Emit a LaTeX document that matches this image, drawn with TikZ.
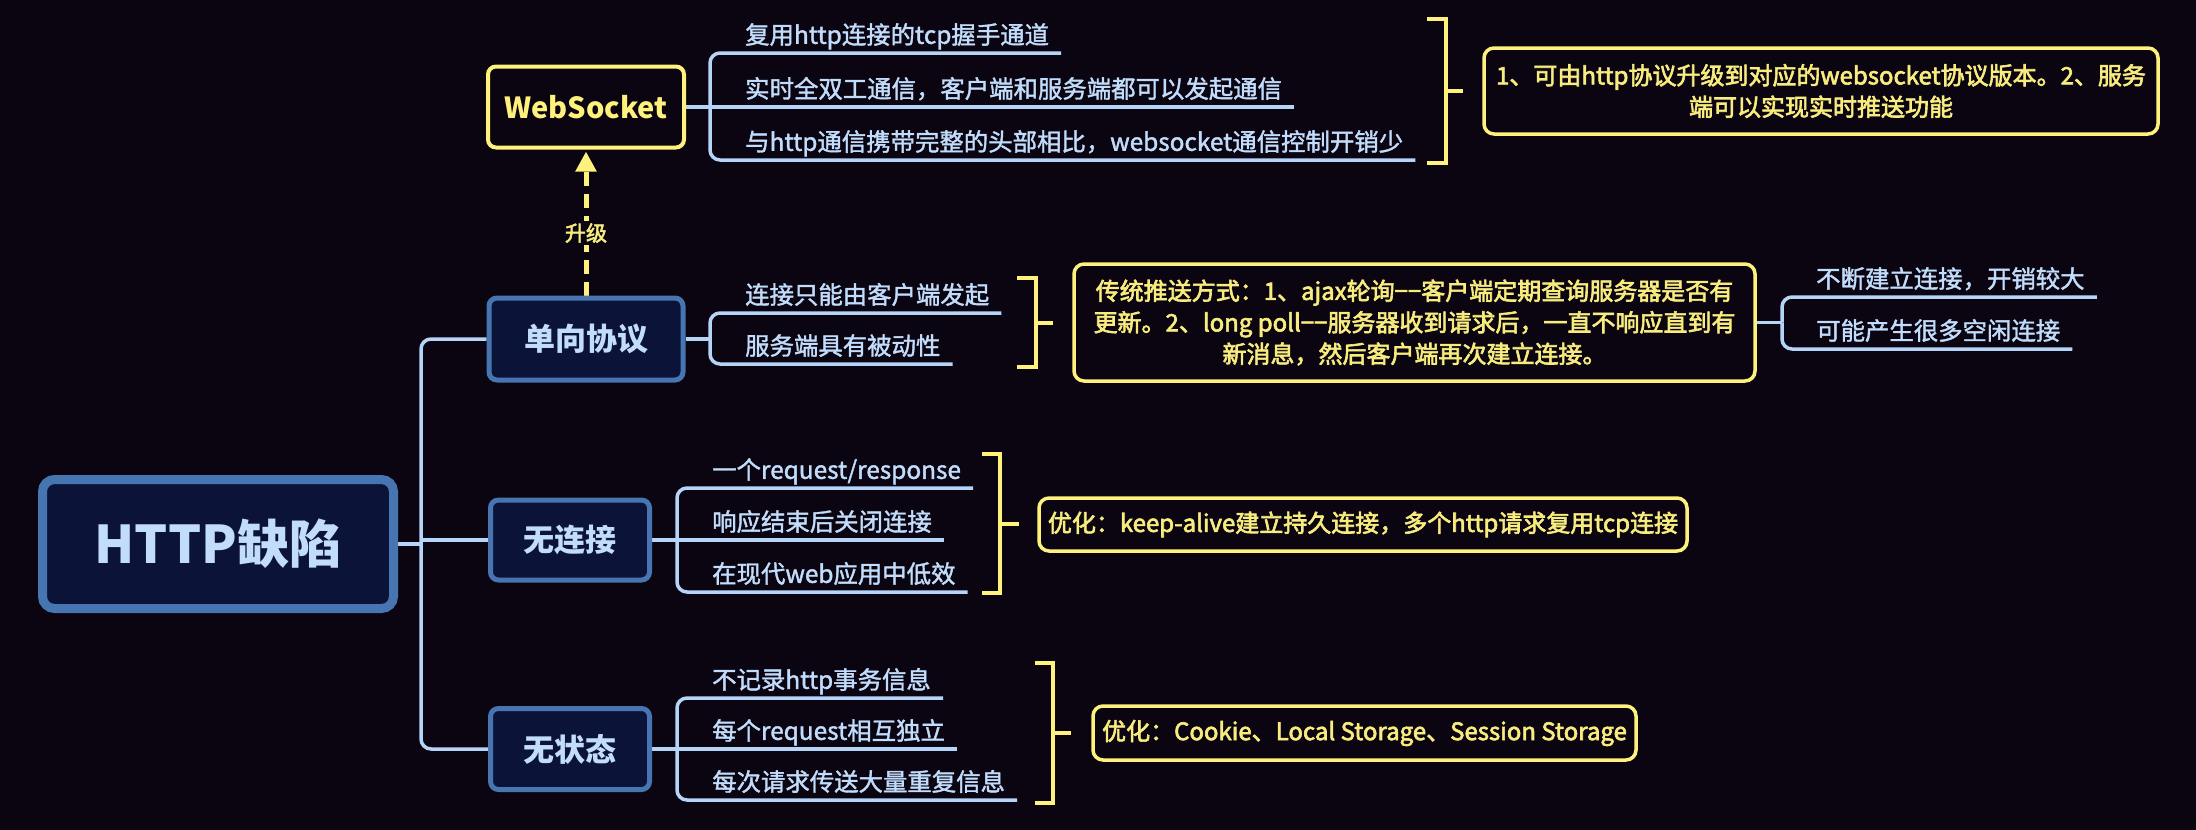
\documentclass[tikz,border=0pt]{standalone}
\usepackage{fontspec}
\setmainfont{Noto Sans CJK SC}
\newfontfamily\medfont{Noto Sans CJK SC}[FakeBold=1.6]
\newfontfamily\notefont{Noto Sans CJK SC}[FakeBold=2.6]
\usetikzlibrary{arrows.meta,backgrounds}
\definecolor{bgc}{HTML}{0A0510}
\definecolor{lb}{HTML}{B6D4F8}
\definecolor{lbt}{HTML}{C2DCFC}
\definecolor{yl}{HTML}{FFF27C}
\definecolor{ylt}{HTML}{F8EC7E}
\definecolor{nb}{HTML}{4775B2}
\definecolor{nf}{HTML}{0B1438}
\tikzset{
 topic/.style={draw=nb, fill=nf, line width=5pt, rounded corners=8pt, text=lbt, font=\bfseries\fontsize{31}{36}\selectfont, inner sep=0pt},
 roottopic/.style={topic, line width=9pt, rounded corners=12pt, font=\bfseries\fontsize{52}{60}\selectfont, minimum width=351pt, minimum height=129pt},
 wsbox/.style={draw=yl, fill=bgc, line width=4pt, rounded corners=8pt, text=yl, font=\bfseries\fontsize{29}{34}\selectfont, minimum width=196pt, minimum height=81pt, inner sep=0pt},
 leaf/.style={anchor=south west, inner xsep=12pt, inner ysep=3pt, text depth=6pt, text height=20pt, text=lbt, font=\medfont\fontsize{24.4}{29}\selectfont},
 link/.style={draw=lb, line width=3.5pt, rounded corners=10pt},
 note/.style={draw=yl, line width=3.5pt, rounded corners=10pt, text=ylt, align=center, inner sep=0pt, font=\notefont\fontsize{24}{31.5}\selectfont},
 bracketline/.style={draw=yl, line width=4pt},
 upgrade/.style={draw=yl, line width=5pt, dash pattern=on 14pt off 8pt, -{Triangle[width=20pt,length=20pt]}, shorten >=2pt},
}
\begin{document}
\begin{tikzpicture}[x=1pt,y=-1pt]
\useasboundingbox (0,0) rectangle (2196,830);
% main topics
\node[roottopic] (root) at (218,544) {HTTP缺陷};
\node[topic, minimum width=194pt, minimum height=82pt] (dx) at (586,339) {单向协议};
\node[topic, minimum width=159pt, minimum height=80pt] (wlj) at (570,540) {无连接};
\node[topic, minimum width=159pt, minimum height=81pt] (wzt) at (570,749) {无状态};
\node[wsbox] (ws) at (586,107) {WebSocket};
\node[fill=bgc, text=ylt, font=\notefont\fontsize{21}{24}\selectfont, inner sep=2pt] (lbl) at (586,233) {升级};
% notes
\node[note, minimum width=674pt, minimum height=86pt] (n1) at (1821,91) {1、可由http协议升级到对应的websocket协议版本。2、服务\\端可以实现实时推送功能};
\node[note, minimum width=681pt, minimum height=117pt] (n2) at (1414.5,322.5) {传统推送方式：1、ajax轮询−−客户端定期查询服务器是否有\\更新。2、long poll−−服务器收到请求后，一直不响应直到有\\新消息，然后客户端再次建立连接。};
\node[note, minimum width=648pt, minimum height=53pt] (n3) at (1363,524.5) {优化：keep-alive建立持久连接，多个http请求复用tcp连接};
\node[note, minimum width=543pt, minimum height=54pt] (n4) at (1364.5,733) {优化：Cookie、Local Storage、Session Storage};
% leaves
\node[leaf] (w1) at (733,53) {复用http连接的tcp握手通道};
\node[leaf] (w2) at (733,107) {实时全双工通信，客户端和服务端都可以发起通信};
\node[leaf] (w3) at (733,160) {与http通信携带完整的头部相比，websocket通信控制开销少};
\node[leaf] (d1) at (733,313) {连接只能由客户端发起};
\node[leaf] (d2) at (733,364) {服务端具有被动性};
\node[leaf] (p1) at (1804,297) {不断建立连接，开销较大};
\node[leaf] (p2) at (1804,349) {可能产生很多空闲连接};
\node[leaf] (c1) at (700,488) {一个request/response};
\node[leaf] (c2) at (700,540) {响应结束后关闭连接};
\node[leaf] (c3) at (700,592) {在现代web应用中低效};
\node[leaf] (s1) at (700,698) {不记录http事务信息};
\node[leaf] (s2) at (700,749) {每个request相互独立};
\node[leaf] (s3) at (700,800) {每次请求传送大量重复信息};
\begin{scope}[on background layer]
\fill[bgc] (0,0) rectangle (2196,830);
% main spine
\coordinate (mj) at (421,544);
\draw[link] (root.east) -- (mj);
\draw[link] (mj) |- (dx.west);
\draw[link] (mj) |- (wzt.west);
\draw[link] (mj |- wlj.west) -- (wlj.west);
% websocket
\coordinate (wsj) at (710,107);
\draw[link] (ws.east) -- (wsj) -- (w2.south east);
\draw[link] (wsj) |- (w1.south east);
\draw[link] (wsj) |- (w3.south east);
% dx
\coordinate (dxj) at (710,339);
\draw[link] (dx.east) -- (dxj);
\draw[link] (dxj) |- (d1.south east);
\draw[link] (dxj) |- (d2.south east);
% n2
\coordinate (n2j) at (1782,322.5);
\draw[link] (n2.east) -- (n2j);
\draw[link] (n2j) |- (p1.south east);
\draw[link] (n2j) |- (p2.south east);
% wlj
\coordinate (cj) at (677,540);
\draw[link] (wlj.east) -- (cj) -- (c2.south east);
\draw[link] (cj) |- (c1.south east);
\draw[link] (cj) |- (c3.south east);
% wzt
\coordinate (sj) at (677,749);
\draw[link] (wzt.east) -- (sj) -- (s2.south east);
\draw[link] (sj) |- (s1.south east);
\draw[link] (sj) |- (s3.south east);
% upgrade arrow
\draw[upgrade] (dx.north) -- (ws.south);
\end{scope}
% brackets
\draw[bracketline] (1427,19) -- (1446,19) -- (1446,163) -- (1427,163) (1446,91) -- (1463,91);
\draw[bracketline] (1017,278) -- (1036,278) -- (1036,367) -- (1017,367) (1036,323) -- (1053,323);
\draw[bracketline] (982,454) -- (1000,454) -- (1000,593) -- (982,593) (1000,524) -- (1019,524);
\draw[bracketline] (1035,663) -- (1053,663) -- (1053,803) -- (1035,803) (1053,733) -- (1071,733);
\end{tikzpicture}
\end{document}
